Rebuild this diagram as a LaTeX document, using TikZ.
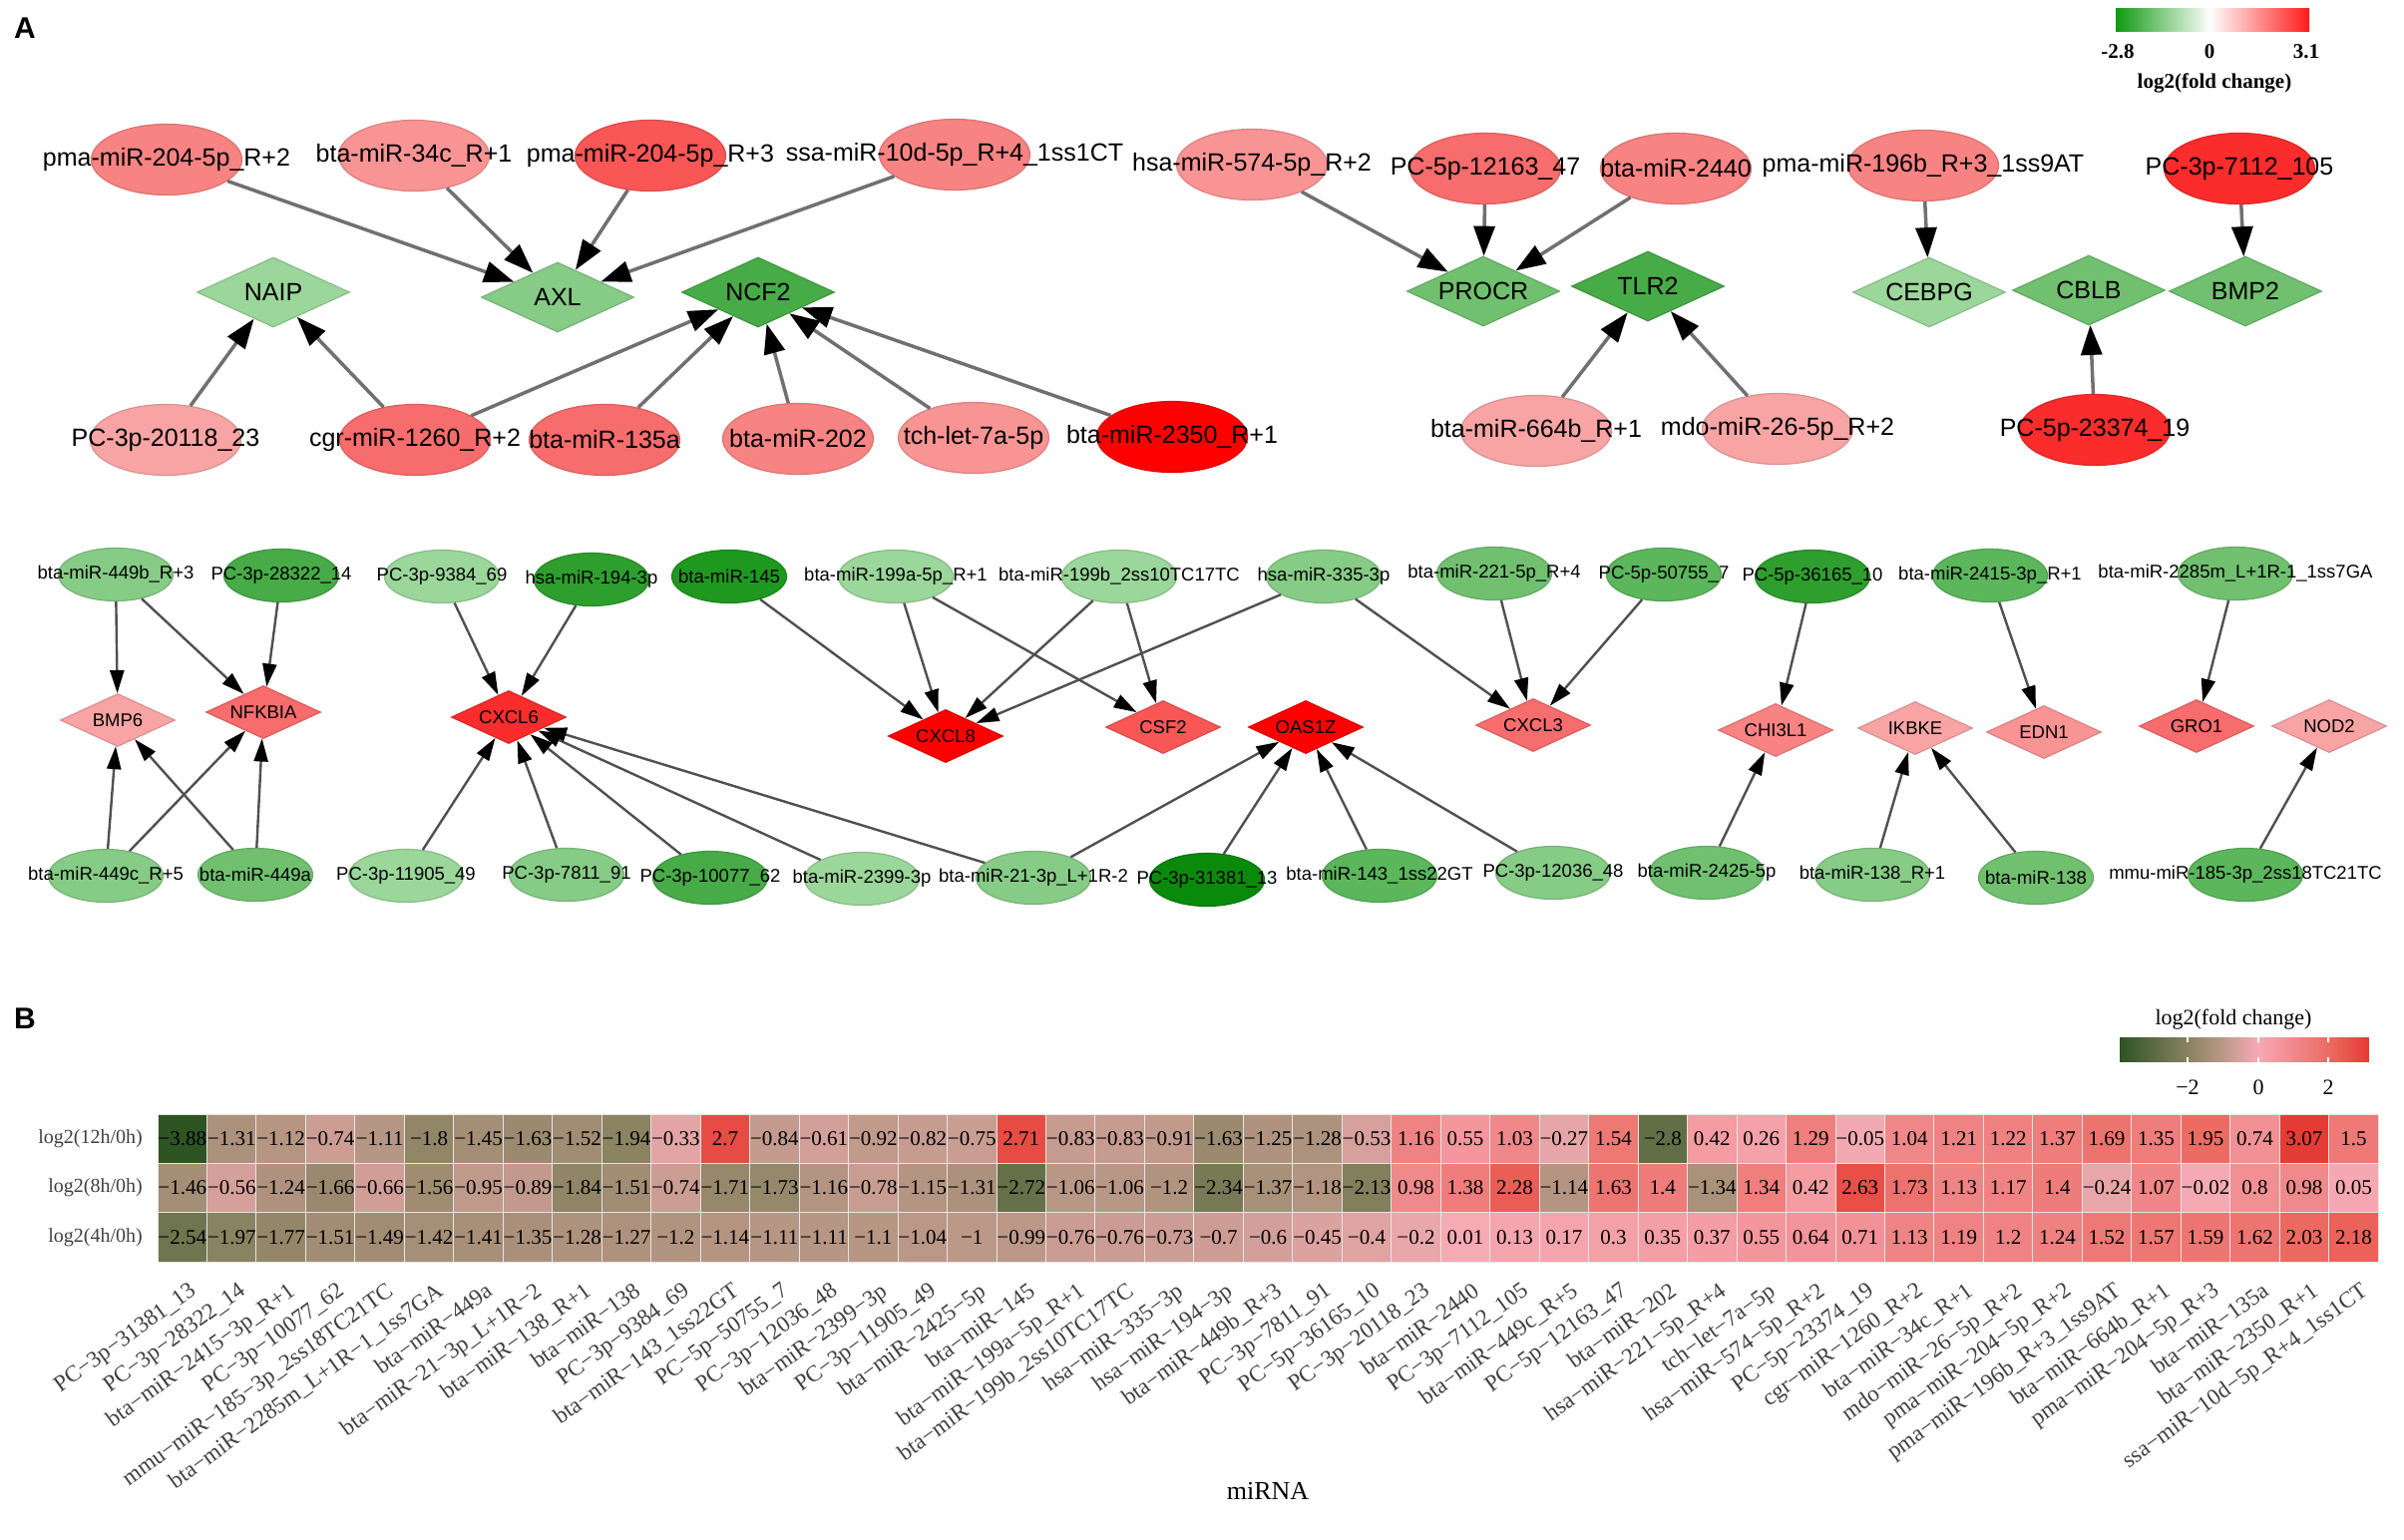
\documentclass[tikz,border=0pt]{standalone}
\usepackage{fontspec}
\setmainfont{Liberation Serif}
\setsansfont{Liberation Sans}
\usepackage{xcolor}
\usetikzlibrary{shapes.geometric,arrows.meta}

% node shades
\definecolor{rA}{HTML}{FF0000}
\definecolor{rB}{HTML}{FA2C2C}
\definecolor{rC}{HTML}{F95656}
\definecolor{rD}{HTML}{F76C6C}
\definecolor{rE}{HTML}{F88383}
\definecolor{rF}{HTML}{F99494}
\definecolor{rG}{HTML}{F9A4A4}
\definecolor{gZ}{HTML}{0A8A0A}
\definecolor{gA}{HTML}{1E981E}
\definecolor{gB}{HTML}{2E9E2E}
\definecolor{gC}{HTML}{47AB47}
\definecolor{gD}{HTML}{5CB65C}
\definecolor{gE}{HTML}{70C070}
\definecolor{gF}{HTML}{86CB86}
\definecolor{gG}{HTML}{9BD69B}
\definecolor{lineT}{HTML}{707070}
\definecolor{lineB}{HTML}{505050}
\definecolor{legG}{HTML}{109A10}
\definecolor{legR}{HTML}{FF1A1A}
\definecolor{labgray}{HTML}{404040}
% heatmap stops at -3.88,-2,-1,0,1,2,3.07
\definecolor{hmA}{HTML}{2E5424}
\definecolor{hmB}{HTML}{888260}
\definecolor{hmC}{HTML}{BC9888}
\definecolor{hmD}{HTML}{F6AAB4}
\definecolor{hmE}{HTML}{F0888A}
\definecolor{hmF}{HTML}{EC6A62}
\definecolor{hmG}{HTML}{E43C34}

\newcommand{\mlab}[1]{\makebox[0pt]{#1}}
\def\hmnum#1#2\relax{\ifx-#1−#2\else#1#2\fi}
\newcommand{\hmsetcolor}[1]{%
  \pgfmathsetmacro{\hmv}{#1}%
  \ifdim\hmv pt<-2pt
    \pgfmathtruncatemacro{\hmp}{round(100*(\hmv+3.88)/1.88)}\colorlet{hmc}{hmB!\hmp!hmA}%
  \else\ifdim\hmv pt<-1pt
    \pgfmathtruncatemacro{\hmp}{round(100*(\hmv+2))}\colorlet{hmc}{hmC!\hmp!hmB}%
  \else\ifdim\hmv pt<0pt
    \pgfmathtruncatemacro{\hmp}{round(100*(\hmv+1))}\colorlet{hmc}{hmD!\hmp!hmC}%
  \else\ifdim\hmv pt<1pt
    \pgfmathtruncatemacro{\hmp}{round(100*\hmv)}\colorlet{hmc}{hmE!\hmp!hmD}%
  \else\ifdim\hmv pt<2pt
    \pgfmathtruncatemacro{\hmp}{round(100*(\hmv-1))}\colorlet{hmc}{hmF!\hmp!hmE}%
  \else
    \pgfmathtruncatemacro{\hmp}{min(100,round(100*(\hmv-2)/1.07))}\colorlet{hmc}{hmG!\hmp!hmF}%
  \fi\fi\fi\fi\fi}

\begin{document}
\begin{tikzpicture}[x=1pt,y=-1pt,
    mirT/.style={ellipse,fill=#1,draw=#1!88!black,line width=1.2pt,minimum width=151pt,minimum height=71pt,inner sep=0pt,font=\sffamily\fontsize{25}{25}\selectfont},
    genT/.style={diamond,shape aspect=2.2,fill=#1,draw=#1!88!black,line width=1.2pt,minimum width=153pt,minimum height=70pt,inner sep=0pt,font=\sffamily\fontsize{25}{25}\selectfont},
    mirB/.style={mirT=#1,minimum width=115pt,minimum height=53pt,font=\sffamily\fontsize{18.5}{18.5}\selectfont},
    genB/.style={genT=#1,minimum width=115pt,minimum height=53pt,font=\sffamily\fontsize{18.5}{18.5}\selectfont},
    edgeT/.style={draw=lineT,line width=3.5pt,-{Triangle[length=30pt,width=21pt,color=black]}},
    edgeB/.style={draw=lineB,line width=2.4pt,-{Triangle[length=23pt,width=14pt,color=black]}},
    panel/.style={font=\sffamily\bfseries\fontsize{30}{30}\selectfont},
    legnum/.style={font=\bfseries\fontsize{21}{21}\selectfont},
    cellnum/.style={font=\fontsize{21}{21}\selectfont,inner sep=0pt},
    rowlab/.style={font=\fontsize{20}{20}\selectfont,text=labgray,anchor=east,inner sep=0pt},
    collab/.style={font=\fontsize{23}{23}\selectfont,text=labgray,rotate=36,anchor=north east,inner sep=1pt},
    hmleg/.style={font=\fontsize{22}{22}\selectfont}]

\fill[white] (0,0) rectangle (2410,1543);
\useasboundingbox (0,0) rectangle (2410,1543);

\node[panel] (pA) at (25,28) {A};
\node[panel] (pB) at (25,1021) {B};

% network legend
\shade[left color=legG,right color=white] (2121,8) rectangle (2216,31);
\shade[left color=white,right color=legR] (2215,8) rectangle (2315,31);
\foreach \lx/\lt in {2123/-2.8,2215/0,2312/3.1}
  \node[legnum] (n\lx) at (\lx,52) {\lt};
\node[legnum] (nleg) at (2220,83) {log2(fold change)};

% network, upper part
\node[mirT=rE] (m204a) at (167,160) {\mlab{pma-miR-204-5p\_R+2}};
\node[mirT=rF] (m34c) at (415,156) {\mlab{bta-miR-34c\_R+1}};
\node[mirT=rC] (m204b) at (652,156) {\mlab{pma-miR-204-5p\_R+3}};
\node[mirT=rE] (m10d) at (957,155) {\mlab{ssa-miR-10d-5p\_R+4\_1ss1CT}};
\node[mirT=rF] (m574) at (1255,165) {\mlab{hsa-miR-574-5p\_R+2}};
\node[mirT=rD] (pc12163) at (1489,169) {\mlab{PC-5p-12163\_47}};
\node[mirT=rE] (m2440) at (1680,169) {\mlab{bta-miR-2440}};
\node[mirT=rE] (m196b) at (1928,166) {\mlab{pma-miR-196b\_R+3\_1ss9AT}};
\node[mirT=rB] (pc7112) at (2245,169) {\mlab{PC-3p-7112\_105}};

\node[genT=gG] (NAIP) at (274,293) {\mlab{NAIP}};
\node[genT=gF] (AXL) at (559,298) {\mlab{AXL}};
\node[genT=gC] (NCF2) at (760,293) {\mlab{NCF2}};
\node[genT=gE] (PROCR) at (1487,292) {\mlab{PROCR}};
\node[genT=gC] (TLR2) at (1652,287) {\mlab{TLR2}};
\node[genT=gG] (CEBPG) at (1934,293) {\mlab{CEBPG}};
\node[genT=gE] (CBLB) at (2094,291) {\mlab{CBLB}};
\node[genT=gE] (BMP2) at (2251,292) {\mlab{BMP2}};

\node[mirT=rG] (pc20118) at (166,441) {\mlab{PC-3p-20118\_23}};
\node[mirT=rD] (m1260) at (416,441) {\mlab{cgr-miR-1260\_R+2}};
\node[mirT=rD] (m135a) at (606,441) {\mlab{bta-miR-135a}};
\node[mirT=rE] (m202) at (800,440) {\mlab{bta-miR-202}};
\node[mirT=rF] (let7a) at (976,439) {\mlab{tch-let-7a-5p}};
\node[mirT=rA] (m2350) at (1175,438) {\mlab{bta-miR-2350\_R+1}};
\node[mirT=rG] (m664b) at (1540,432) {\mlab{bta-miR-664b\_R+1}};
\node[mirT=rG] (m26) at (1782,430) {\mlab{mdo-miR-26-5p\_R+2}};
\node[mirT=rB] (pc23374) at (2100,431) {\mlab{PC-5p-23374\_19}};

\foreach \s/\t in {m204a/AXL,m34c/AXL,m204b/AXL,m10d/AXL,pc20118/NAIP,m1260/NAIP,
    m1260/NCF2,m135a/NCF2,m202/NCF2,let7a/NCF2,m2350/NCF2,m574/PROCR,pc12163/PROCR,
    m2440/PROCR,m664b/TLR2,m26/TLR2,m196b/CEBPG,pc7112/BMP2,pc23374/CBLB}
  \draw[edgeT] (\s) -- (\t);

% network, lower part
\node[mirB=gF] (b449b) at (116,576) {\mlab{bta-miR-449b\_R+3}};
\node[mirB=gC] (pc28322) at (282,577) {\mlab{PC-3p-28322\_14}};
\node[mirB=gG] (pc9384) at (443,578) {\mlab{PC-3p-9384\_69}};
\node[mirB=gB] (m194) at (593,581) {\mlab{hsa-miR-194-3p}};
\node[mirB=gA] (m145) at (731,578) {\mlab{bta-miR-145}};
\node[mirB=gG] (m199a) at (898,578) {\mlab{bta-miR-199a-5p\_R+1}};
\node[mirB=gG] (m199b) at (1122,578) {\mlab{bta-miR-199b\_2ss10TC17TC}};
\node[mirB=gF] (m335) at (1327,578) {\mlab{hsa-miR-335-3p}};
\node[mirB=gE] (m221) at (1498,575) {\mlab{bta-miR-221-5p\_R+4}};
\node[mirB=gD] (pc50755) at (1668,576) {\mlab{PC-5p-50755\_7}};
\node[mirB=gB] (pc36165) at (1817,578) {\mlab{PC-5p-36165\_10}};
\node[mirB=gD] (m2415) at (1995,577) {\mlab{bta-miR-2415-3p\_R+1}};
\node[mirB=gE] (m2285) at (2241,575) {\mlab{bta-miR-2285m\_L+1R-1\_1ss7GA}};

\node[genB=rG] (BMP6) at (118,722) {\mlab{BMP6}};
\node[genB=rD] (NFKBIA) at (264,714) {\mlab{NFKBIA}};
\node[genB=rB] (CXCL6) at (510,719) {\mlab{CXCL6}};
\node[genB=rA] (CXCL8) at (948,738) {\mlab{CXCL8}};
\node[genB=rC] (CSF2) at (1166,729) {\mlab{CSF2}};
\node[genB=rA] (OAS1Z) at (1309,729) {\mlab{OAS1Z}};
\node[genB=rD] (CXCL3) at (1537,727) {\mlab{CXCL3}};
\node[genB=rE] (CHI3L1) at (1780,732) {\mlab{CHI3L1}};
\node[genB=rG] (IKBKE) at (1920,730) {\mlab{IKBKE}};
\node[genB=rF] (EDN1) at (2049,734) {\mlab{EDN1}};
\node[genB=rD] (GRO1) at (2202,728) {\mlab{GRO1}};
\node[genB=rG] (NOD2) at (2335,728) {\mlab{NOD2}};

\node[mirB=gF] (b449c) at (106,878) {\mlab{bta-miR-449c\_R+5}};
\node[mirB=gE] (b449a) at (256,877) {\mlab{bta-miR-449a}};
\node[mirB=gG] (pc11905) at (407,878) {\mlab{PC-3p-11905\_49}};
\node[mirB=gF] (pc7811) at (568,877) {\mlab{PC-3p-7811\_91}};
\node[mirB=gC] (pc10077) at (712,880) {\mlab{PC-3p-10077\_62}};
\node[mirB=gG] (m2399) at (864,881) {\mlab{bta-miR-2399-3p}};
\node[mirB=gF] (m21) at (1036,880) {\mlab{bta-miR-21-3p\_L+1R-2}};
\node[mirB=gZ] (pc31381) at (1210,882) {\mlab{PC-3p-31381\_13}};
\node[mirB=gD] (m143) at (1383,878) {\mlab{bta-miR-143\_1ss22GT}};
\node[mirB=gF] (pc12036) at (1557,875) {\mlab{PC-3p-12036\_48}};
\node[mirB=gE] (m2425) at (1711,875) {\mlab{bta-miR-2425-5p}};
\node[mirB=gF] (m138r) at (1877,877) {\mlab{bta-miR-138\_R+1}};
\node[mirB=gE] (m138) at (2041,880) {\mlab{bta-miR-138}};
\node[mirB=gD] (mmu185) at (2251,877) {\mlab{mmu-miR-185-3p\_2ss18TC21TC}};

\foreach \s/\t in {b449b/BMP6,b449b/NFKBIA,pc28322/NFKBIA,b449c/BMP6,b449c/NFKBIA,
    b449a/BMP6,b449a/NFKBIA,pc9384/CXCL6,m194/CXCL6,pc11905/CXCL6,pc7811/CXCL6,
    pc10077/CXCL6,m2399/CXCL6,m21/CXCL6,m145/CXCL8,m199a/CXCL8,m199a/CSF2,m199b/CXCL8,
    m199b/CSF2,m335/CXCL8,m335/CXCL3,m221/CXCL3,pc50755/CXCL3,m21/OAS1Z,pc31381/OAS1Z,
    m143/OAS1Z,pc12036/OAS1Z,pc36165/CHI3L1,m2415/EDN1,m2285/GRO1,m2425/CHI3L1,
    m138r/IKBKE,m138/IKBKE,mmu185/NOD2}
  \draw[edgeB] (\s) -- (\t);

% heatmap
\foreach \vals [count=\r] in {
    {-3.88,-1.31,-1.12,-0.74,-1.11,-1.8,-1.45,-1.63,-1.52,-1.94,-0.33,2.7,-0.84,-0.61,-0.92,-0.82,-0.75,2.71,-0.83,-0.83,-0.91,-1.63,-1.25,-1.28,-0.53,1.16,0.55,1.03,-0.27,1.54,-2.8,0.42,0.26,1.29,-0.05,1.04,1.21,1.22,1.37,1.69,1.35,1.95,0.74,3.07,1.5},
    {-1.46,-0.56,-1.24,-1.66,-0.66,-1.56,-0.95,-0.89,-1.84,-1.51,-0.74,-1.71,-1.73,-1.16,-0.78,-1.15,-1.31,-2.72,-1.06,-1.06,-1.2,-2.34,-1.37,-1.18,-2.13,0.98,1.38,2.28,-1.14,1.63,1.4,-1.34,1.34,0.42,2.63,1.73,1.13,1.17,1.4,-0.24,1.07,-0.02,0.8,0.98,0.05},
    {-2.54,-1.97,-1.77,-1.51,-1.49,-1.42,-1.41,-1.35,-1.28,-1.27,-1.2,-1.14,-1.11,-1.11,-1.1,-1.04,-1,-0.99,-0.76,-0.76,-0.73,-0.7,-0.6,-0.45,-0.4,-0.2,0.01,0.13,0.17,0.3,0.35,0.37,0.55,0.64,0.71,1.13,1.19,1.2,1.24,1.52,1.57,1.59,1.62,2.03,2.18}}
{
  \foreach \v [count=\c] in \vals {
    \hmsetcolor{\v}
    \fill[hmc,draw=white!90!black,line width=1pt] ({158+(\c-1)*49.47},{1117+(\r-1)*49.33}) rectangle ++(49.47,49.33);
    \node[cellnum] (v\r-\c) at ({158+(\c-0.5)*49.47},{1117+(\r-0.5)*49.33}) {\expandafter\hmnum\v\relax};
  }
}

\foreach \lab [count=\r] in {log2(12h/0h),log2(8h/0h),log2(4h/0h)}
  \node[rowlab] (row\r) at (143,{1117+(\r-0.5)*49.33}) {\lab};

\foreach \lab [count=\c] in {PC−3p−31381\_13,PC−3p−28322\_14,bta−miR−2415−3p\_R+1,
    PC−3p−10077\_62,mmu−miR−185−3p\_2ss18TC21TC,bta−miR−2285m\_L+1R−1\_1ss7GA,
    bta−miR−449a,bta−miR−21−3p\_L+1R−2,bta−miR−138\_R+1,bta−miR−138,PC−3p−9384\_69,
    bta−miR−143\_1ss22GT,PC−5p−50755\_7,PC−3p−12036\_48,bta−miR−2399−3p,PC−3p−11905\_49,
    bta−miR−2425−5p,bta−miR−145,bta−miR−199a−5p\_R+1,bta−miR−199b\_2ss10TC17TC,
    hsa−miR−335−3p,hsa−miR−194−3p,bta−miR−449b\_R+3,PC−3p−7811\_91,PC−5p−36165\_10,
    PC−3p−20118\_23,bta−miR−2440,PC−3p−7112\_105,bta−miR−449c\_R+5,PC−5p−12163\_47,
    bta−miR−202,hsa−miR−221−5p\_R+4,tch−let−7a−5p,hsa−miR−574−5p\_R+2,PC−5p−23374\_19,
    cgr−miR−1260\_R+2,bta−miR−34c\_R+1,mdo−miR−26−5p\_R+2,pma−miR−204−5p\_R+2,
    pma−miR−196b\_R+3\_1ss9AT,bta−miR−664b\_R+1,pma−miR−204−5p\_R+3,bta−miR−135a,
    bta−miR−2350\_R+1,ssa−miR−10d−5p\_R+4\_1ss1CT}
  \node[collab] (col\c) at ({158+(\c-0.5)*49.47+6},1283) {\lab};

\node[hmleg,font=\fontsize{26}{26}\selectfont] (xlab) at (1271,1495) {miRNA};

% heatmap legend
\foreach \k in {0,...,124}{
  \pgfmathsetmacro{\kv}{-3.88+\k*6.95/124}
  \hmsetcolor{\kv}
  \fill[hmc] ({2125+2*\k},1040) rectangle ++(2.2,25);
}
\foreach \tx in {2193,2264,2334}
  \draw[white,line width=1.5pt] (\tx,1040) -- ++(0,5) (\tx,1065) -- ++(0,-5);
\foreach \tx/\tl in {2193/−2,2264/0,2334/2}
  \node[hmleg] (t\tx) at (\tx,1090) {\tl};
\node[hmleg] (hleg) at (2239,1022) {log2(fold change)};

\end{tikzpicture}
\end{document}
